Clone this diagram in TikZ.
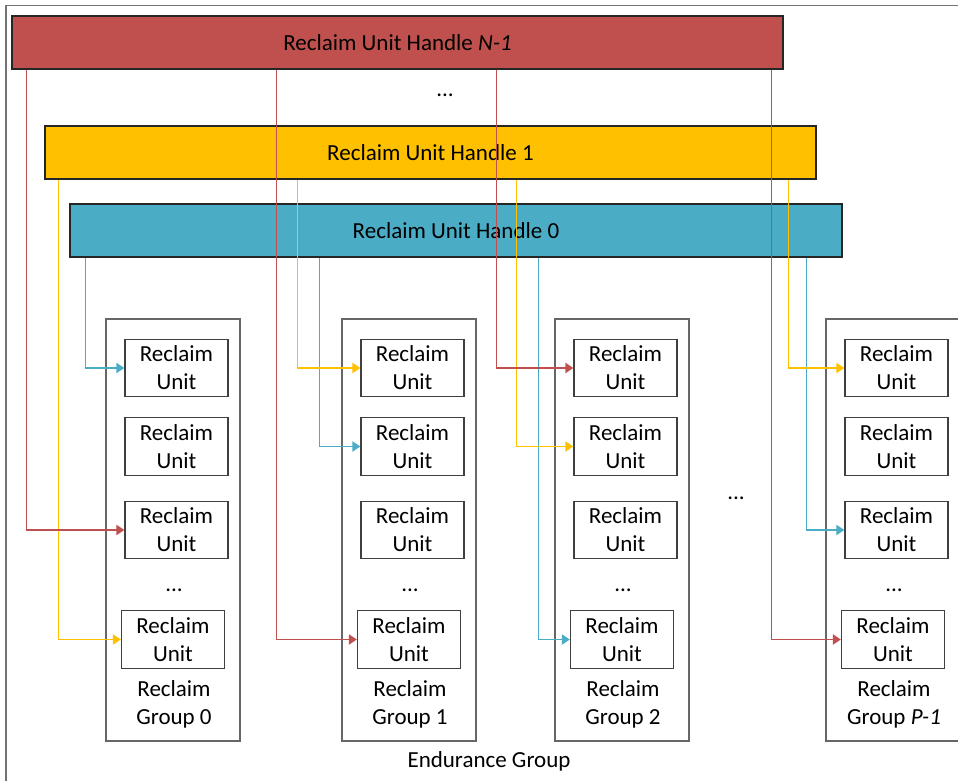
\documentclass[tikz,border=0pt]{standalone}
\usepackage{fontspec}
\setmainfont{Carlito}
\usetikzlibrary{arrows.meta}
\definecolor{hred}{HTML}{C0504D}
\definecolor{hyel}{HTML}{FFC000}
\definecolor{hblu}{HTML}{4BACC6}
\tikzset{
  txt/.style={font=\fontsize{23}{28}\selectfont, text=black},
  bar/.style={txt, draw=black!85, line width=1.2pt, inner sep=0pt, minimum height=53pt},
  grp/.style={draw=black!60, line width=1.2pt, inner sep=0pt, minimum width=134pt, minimum height=422pt},
  unit/.style={txt, draw=black!75, line width=1.2pt, inner sep=0pt, minimum width=103pt, minimum height=57.5pt, align=center},
  glabel/.style={txt, align=center, inner sep=0pt},
  dots/.style={txt, inner sep=0pt},
  conn/.style={line width=1.8pt, -{Triangle[length=8pt,width=10pt]}},
  redc/.style={conn, draw=hred},
  yelc/.style={conn, draw=hyel},
  bluc/.style={conn, draw=hblu},
}
\begin{document}
\begin{tikzpicture}[x=1pt,y=-1pt]
\useasboundingbox (0,0) rectangle (958,780);
\clip (0,0) rectangle (958,780);
\draw[black!55, line width=1.2pt] (6,5.5) rectangle (990,800);

% handles
\node[bar, fill=hred, minimum width=771pt] (hN) at (397.5,42.5) {Reclaim Unit Handle \textit{N-1}};
\node[dots] (dtop) at (445,95) {...};
\node[bar, fill=hyel, minimum width=771pt] (h1) at (430.5,152.5) {Reclaim Unit Handle 1};
\node[bar, fill=hblu, minimum width=772pt] (h0) at (456,230.5) {Reclaim Unit Handle 0};

% groups
\foreach \g/\L/\lab in {0/106/{Group 0}, 1/342/{Group 1}, 2/555/{Group 2}, 3/826/{Group \textit{P-1}}}{
  \node[grp] (g\g) at ({\L+67},530) {};
  \node[unit] (u\g1) at ({\L+70.5},368) {Reclaim\\Unit};
  \node[unit] (u\g2) at ({\L+70.5},446.5) {Reclaim\\Unit};
  \node[unit] (u\g3) at ({\L+70.5},530) {Reclaim\\Unit};
  \node[dots] (d\g) at ({\L+68},590) {...};
  \node[unit] (u\g4) at ({\L+67},639.5) {Reclaim\\Unit};
  \node[glabel] (gl\g) at ({\L+68},704) {Reclaim\\\lab};
}
\node[dots] (dmid) at (736,498) {...};
\node[txt, inner sep=0pt] (eg) at (489,761) {Endurance Group};

% connectors: Reclaim Unit Handle 0 (blue)
\draw[bluc] ([xshift=16pt]h0.south west) |- (u01.west);
\draw[bluc] ([xshift=250pt]h0.south west) |- (u12.west);
\draw[bluc] ([xshift=469pt]h0.south west) |- (u24.west);
\draw[bluc] ([xshift=737pt]h0.south west) |- (u33.west);
% Reclaim Unit Handle 1 (yellow)
\draw[yelc] ([xshift=14pt]h1.south west) |- (u04.west);
\draw[yelc] ([xshift=253pt]h1.south west) |- (u11.west);
\draw[yelc] ([xshift=472pt]h1.south west) |- (u22.west);
\draw[yelc] ([xshift=744pt]h1.south west) |- (u31.west);
% Reclaim Unit Handle N-1 (red)
\draw[redc] ([xshift=15pt]hN.south west) |- (u03.west);
\draw[redc] ([xshift=265pt]hN.south west) |- (u14.west);
\draw[redc] ([xshift=485pt]hN.south west) |- (u21.west);
\draw[redc] ([xshift=760pt]hN.south west) |- (u34.west);
\end{tikzpicture}
\end{document}
